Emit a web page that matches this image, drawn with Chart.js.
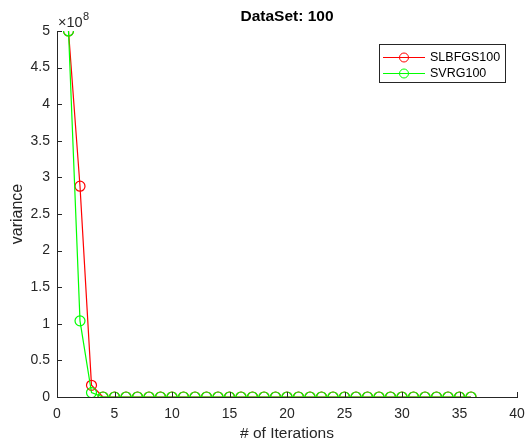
<!DOCTYPE html>
<html>
<head>
<meta charset="utf-8">
<script src="https://cdn.jsdelivr.net/npm/chart.js@4/dist/chart.umd.min.js"></script>
<style>
html,body{margin:0;padding:0;background:#fff;}
#wrap{width:525px;height:443px;}
</style>
</head>
<body>
<div id="wrap"><canvas id="c" width="525" height="443"></canvas></div>
<script>
const chartTitle = "DataSet: 100";
const xLabel = "# of Iterations";
const yLabel = "variance";
const seriesNames = ["SLBFGS100", "SVRG100"];
const iterations = [1,2,3,4,5,6,7,8,9,10,11,12,13,14,15,16,17,18,19,20,21,22,23,24,25,26,27,28,29,30,31,32,33,34,35,36];
const slbfgs = [5.0e8, 2.88e8, 0.16e8, 0,0,0,0,0,0,0,0,0,0,0,0,0,0,0,0,0,0,0,0,0,0,0,0,0,0,0,0,0,0,0,0,0];
const svrg   = [5.0e8, 1.04e8, 0.06e8, 0,0,0,0,0,0,0,0,0,0,0,0,0,0,0,0,0,0,0,0,0,0,0,0,0,0,0,0,0,0,0,0,0];
const xTicks = [0,5,10,15,20,25,30,35,40];
const yTicks = [0,0.5,1,1.5,2,2.5,3,3.5,4,4.5,5];
const yExponent = 8;

const FONT = "'Liberation Sans', Arial, Helvetica, sans-serif";
const AX = '#262626';
const colors = ['#ff0000', '#00ff00'];

function pts(vals){ return iterations.map((x,i)=>({x:x, y:vals[i]})); }

const overlay = {
  id: 'overlay',
  afterDraw(chart){
    const ctx = chart.ctx, ca = chart.chartArea;
    const xs = chart.scales.x, ys = chart.scales.y;
    ctx.save();
    ctx.strokeStyle = AX; ctx.lineWidth = 1;
    ctx.beginPath();
    xTicks.forEach(v=>{ const px = Math.round(xs.getPixelForValue(v))+0.5; ctx.moveTo(px, ca.bottom); ctx.lineTo(px, ca.bottom-5); });
    yTicks.forEach(v=>{ const py = Math.round(ys.getPixelForValue(v*Math.pow(10,yExponent)))+0.5; ctx.moveTo(ca.left, py); ctx.lineTo(ca.left+5, py); });
    ctx.stroke();
    ctx.fillStyle = '#000';
    ctx.font = 'bold 15.5px ' + FONT;
    ctx.textAlign = 'center'; ctx.textBaseline = 'middle';
    ctx.fillText(chartTitle, (ca.left+ca.right)/2, 17);
    ctx.fillStyle = AX;
    ctx.textAlign = 'left'; ctx.textBaseline = 'alphabetic';
    ctx.font = '14.5px ' + FONT;
    ctx.fillText('\u00d710', ca.left + 1, 27);
    const w = ctx.measureText('\u00d710').width;
    ctx.font = '11px ' + FONT;
    ctx.fillText(String(yExponent), ca.left + w + 1.5, 20);
    const bx = 379.5, by = 44.5, bw = 126, bh = 38;
    ctx.fillStyle = '#fff';
    ctx.fillRect(bx, by, bw, bh);
    ctx.strokeStyle = '#262626'; ctx.lineWidth = 1;
    ctx.strokeRect(bx, by, bw, bh);
    ctx.font = '12.5px ' + FONT;
    ctx.textBaseline = 'middle'; ctx.textAlign = 'left';
    seriesNames.forEach((name,i)=>{
      const yy = 57 + i*16;
      ctx.strokeStyle = colors[i];
      ctx.beginPath(); ctx.moveTo(383, yy+0.5); ctx.lineTo(425, yy+0.5); ctx.stroke();
      ctx.beginPath(); ctx.arc(404, yy+0.5, 4.5, 0, Math.PI*2); ctx.stroke();
      ctx.fillStyle = '#000';
      ctx.fillText(name, 430, yy+1);
    });
    ctx.restore();
  }
};

new Chart(document.getElementById('c'), {
  type: 'line',
  data: {
    datasets: [
      { label: seriesNames[0], data: pts(slbfgs), borderColor: colors[0], backgroundColor: 'rgba(0,0,0,0)',
        borderWidth: 1.2, pointRadius: 5, pointBorderWidth: 1.2, pointBorderColor: colors[0], pointBackgroundColor: 'rgba(0,0,0,0)', tension: 0, order: 1 },
      { label: seriesNames[1], data: pts(svrg), borderColor: colors[1], backgroundColor: 'rgba(0,0,0,0)',
        borderWidth: 1.2, pointRadius: 5, pointBorderWidth: 1.2, pointBorderColor: colors[1], pointBackgroundColor: 'rgba(0,0,0,0)', tension: 0, order: 0 }
    ]
  },
  options: {
    responsive: false,
    animation: false,
    devicePixelRatio: 1,
    layout: { padding: { top: 31, right: 8, left: 0, bottom: 0 } },
    plugins: { legend: { display: false }, title: { display: false }, tooltip: { enabled: false } },
    scales: {
      x: {
        type: 'linear', min: 0, max: 40,
        afterFit(s){ s.height = 46; s.paddingLeft = 0; s.paddingRight = 0; },
        afterBuildTicks(s){ s.ticks = xTicks.map(v=>({value:v})); },
        grid: { display: false, drawTicks: false },
        border: { display: true, color: AX, width: 1 },
        ticks: { color: AX, font: { family: FONT, size: 14 }, padding: 9, maxRotation: 0, autoSkip: false },
        title: { display: true, text: xLabel, color: AX, font: { family: FONT, size: 15.5 }, padding: { top: 0, bottom: 0 } }
      },
      y: {
        type: 'linear', min: 0, max: 5e8,
        afterFit(s){ s.width = 57; s.paddingTop = 0; s.paddingBottom = 0; },
        afterBuildTicks(s){ s.ticks = yTicks.map(v=>({value: v*Math.pow(10,yExponent)})); },
        grid: { display: false, drawTicks: false },
        border: { display: true, color: AX, width: 1 },
        ticks: { color: AX, font: { family: FONT, size: 14 }, padding: 7, autoSkip: false,
          callback(v){ return String(Math.round(v/Math.pow(10,yExponent)*10)/10); } },
        title: { display: true, text: yLabel, color: AX, font: { family: FONT, size: 16 }, padding: { top: 8, bottom: 0 } }
      }
    }
  },
  plugins: [overlay]
});
</script>
</body>
</html>
